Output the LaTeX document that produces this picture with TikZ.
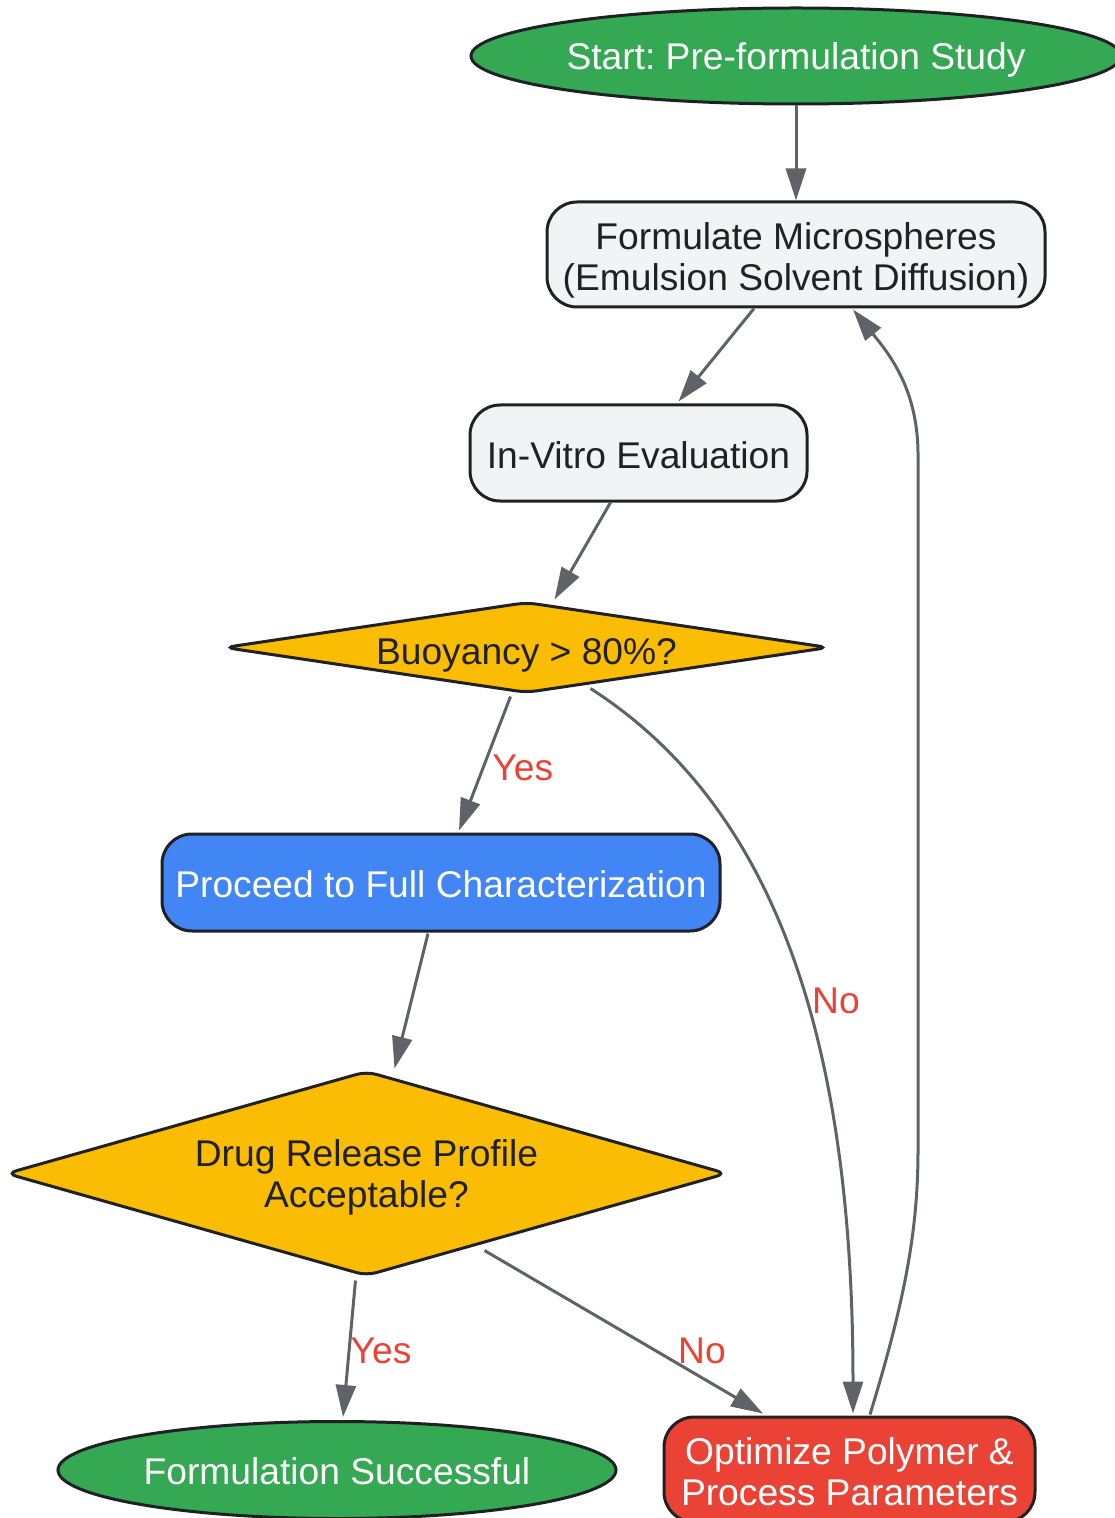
\documentclass[tikz,border=0pt]{standalone}
\usepackage{fontspec}
\setmainfont{Liberation Sans}
\usetikzlibrary{shapes.geometric,arrows.meta,calc}
\definecolor{gGreen}{HTML}{34A853}
\definecolor{gGrey}{HTML}{F1F3F4}
\definecolor{gYellow}{HTML}{FBBC04}
\definecolor{gBlue}{HTML}{4285F4}
\definecolor{gRed}{HTML}{EA4335}
\definecolor{gInk}{HTML}{202124}
\definecolor{gEdge}{HTML}{5F6368}
\frenchspacing
\newcommand{\txtlift}[1]{\rule{0pt}{#1}}
\begin{document}
\begin{tikzpicture}[x=0.5pt,y=-0.5pt,
  every node/.style={font=\fontsize{18.6pt}{20.5pt}\selectfont\frenchspacing, align=center, inner sep=0pt},
  base/.style={draw=gInk, line width=1.5pt},
  term/.style={base, ellipse, fill=gGreen, text=white},
  procbox/.style={base, rectangle, rounded corners=15pt, fill=gGrey, text=gInk},
  decide/.style={base, diamond, rounded corners=5pt, fill=gYellow, text=gInk},
  arr/.style={draw=gEdge, line width=1.5pt, -{Triangle[length=16pt,width=10pt]}},
  lbl/.style={text=gRed}
]
\useasboundingbox (0,0) rectangle (1114,1518);

\node[term, minimum width=325pt, minimum height=48pt] (start) at (796,56) {\txtlift{17.4pt}Start: Pre-formulation Study};
\node[procbox, minimum width=249pt, minimum height=52.5pt] (form) at (796,254.5) {\txtlift{19.4pt}Formulate Microspheres\\(Emulsion Solvent Diffusion)};
\node[procbox, minimum width=168.5pt, minimum height=48pt] (vitro) at (638.5,453) {\txtlift{15.4pt}In-Vitro Evaluation};
\node[decide, aspect=6.6, inner xsep=-10pt, minimum width=302.5pt, minimum height=45.5pt] (buoy) at (526.5,647.5) {\txtlift{20.4pt}Buoyancy \textgreater{} 80\%?};
\node[procbox, fill=gBlue, text=white, minimum width=279pt, minimum height=48.5pt] (full) at (441,882.5) {\txtlift{15.4pt}Proceed to Full Characterization};
\node[decide, aspect=3.55, minimum width=360.5pt, minimum height=102.5pt] (drug) at (366.5,1173.5) {\txtlift{17.4pt}Drug Release Profile\\Acceptable?};
\node[term, minimum width=279pt, minimum height=48.5pt] (succ) at (337,1470) {\txtlift{14.4pt}Formulation Successful};
\node[procbox, fill=gRed, text=white, minimum width=185.5pt, minimum height=52.5pt] (opt) at (849.5,1469.5) {\txtlift{15.4pt}Optimize Polymer \&\\Process Parameters};

\draw[arr] (start) -- (form);
\draw[arr] ($(form.south)+(-42,0)$) -- ($(vitro.north)+(40,-2)$);
\draw[arr] ($(vitro.south)+(-28,0)$) -- ($(buoy.north)+(28,-1)$);
\draw[arr] ($(buoy.south)+(-16,2)$) -- node[lbl, pos=0.5, xshift=19pt, yshift=-2pt] {Yes} ($(full.north)+(18,-2)$);
\draw[arr] ($(buoy.south)+(64,-6)$) .. controls (780,810) and (853,1050) .. ($(opt.north)+(3.5,-2)$);
\node[lbl] (no1) at (836,1001) {No};
\draw[arr] ($(full.south)+(-13,1)$) -- ($(drug.north)+(28,-1)$);
\draw[arr] ($(drug.south)+(-11,3)$) -- ($(succ.north)+(6,-3)$);
\node[lbl] (yes2) at (381,1351) {Yes};
\draw[arr] ($(drug.south)+(118,-27)$) -- ($(opt.north)+(-86.5,-2)$);
\node[lbl] (no2) at (702,1351) {No};
\draw[arr] ($(opt.north)+(20.5,-1)$) .. controls (905,1300) and (918,1230) .. (918,1150) -- (918,455) .. controls (918,390) and (890,355) .. ($(form.south)+(57,1)$);
\end{tikzpicture}
\end{document}
